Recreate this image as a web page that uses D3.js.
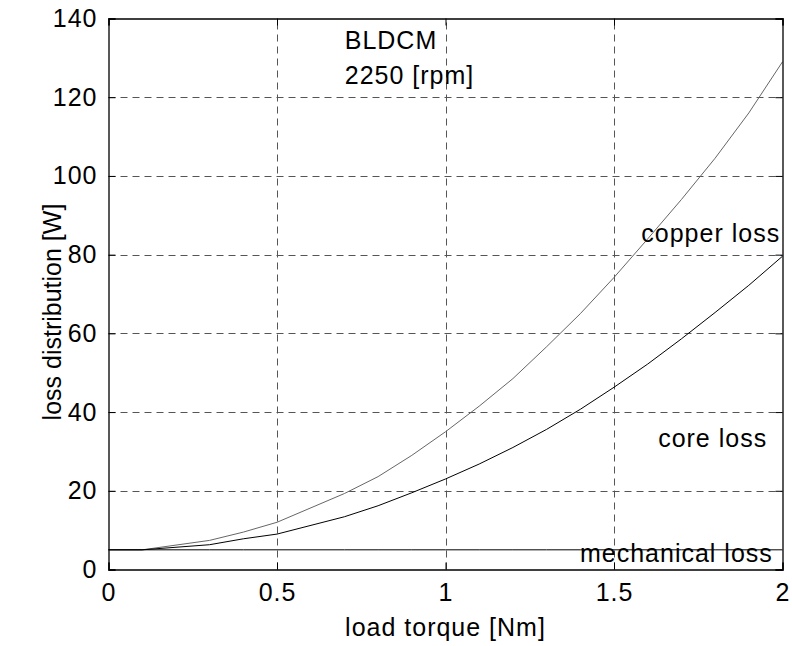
<!DOCTYPE html>
<html>
<head>
<meta charset="utf-8">
<script src="https://cdn.jsdelivr.net/npm/d3@7"></script>
<style>
  body { margin: 0; background: #fff; }
  text { font-family: "Liberation Sans", Arial, sans-serif; fill: #000; }
</style>
</head>
<body>
<div id="chart"></div>
<script>
// data (load torque in Nm, losses in W)
var torque     = [0, 0.1, 0.3, 0.4, 0.5, 0.7, 0.8, 0.9, 1.0, 1.1, 1.2, 1.3, 1.4, 1.5, 1.6, 1.7, 1.8, 1.9, 2.0];
var copperLoss = [5, 5, 7.4, 9.5, 12, 19.3, 23.6, 29, 35, 41.5, 48.5, 56.6, 65, 74.2, 84, 94, 104.5, 116, 129];
var coreLoss   = [5, 5, 6.3, 7.8, 9, 13.4, 16.2, 19.5, 23, 26.8, 31, 35.6, 40.7, 46.3, 52.2, 58.6, 65.3, 72.2, 79.6];
var mechLoss   = [5, 5, 5, 5, 5, 5, 5, 5, 5, 5, 5, 5, 5, 5, 5, 5, 5, 5, 5];

var xTicks = [0, 0.5, 1, 1.5, 2];
var yTicks = [0, 20, 40, 60, 80, 100, 120, 140];

// annotations: [text, x, y] in data units
var notes = [
    ["BLDCM", 0.701, 132.3],
    ["2250 [rpm]", 0.701, 123.4],
    ["copper loss", 1.581, 83.3],
    ["core loss", 1.631, 31.2],
    ["mechanical loss", 1.399, 2.0]
];

var W = 792, H = 646;
// plot box (note: "top" is reserved on window, so prefix these)
var pLeft = 108.5, pRight = 782.5, pTop = 18.5, pBottom = 569.5;

var svg = d3.select("#chart").append("svg")
    .attr("width", W)
    .attr("height", H);

var x = d3.scaleLinear().domain([0, 2]).range([pLeft, pRight]);
var y = d3.scaleLinear().domain([0, 140]).range([pBottom, pTop]);

// grid lines (dashed)
var grid = svg.append("g").attr("stroke", "#555").attr("stroke-width", 1)
    .attr("stroke-dasharray", "7,5");
grid.selectAll("line.gx")
    .data(xTicks.slice(1, -1))
    .enter().append("line")
    .attr("x1", d => Math.round(x(d)) + 0.5).attr("x2", d => Math.round(x(d)) + 0.5)
    .attr("y1", pBottom).attr("y2", pTop);
grid.selectAll("line.gy")
    .data(yTicks.slice(1, -1))
    .enter().append("line")
    .attr("y1", d => Math.round(y(d)) + 0.5).attr("y2", d => Math.round(y(d)) + 0.5)
    .attr("x1", pLeft).attr("x2", pRight);

// curves
var line = d3.line()
    .x((d, i) => x(torque[i]))
    .y(d => y(d));

svg.append("path").datum(copperLoss)
    .attr("fill", "none").attr("stroke", "#666").attr("stroke-width", 1)
    .attr("d", line);
svg.append("path").datum(coreLoss)
    .attr("fill", "none").attr("stroke", "#000").attr("stroke-width", 1)
    .attr("d", line);
svg.append("path").datum(mechLoss)
    .attr("fill", "none").attr("stroke", "#000").attr("stroke-width", 1)
    .attr("d", line);

// axes with inward ticks, all four sides
var fs = 25;
var xAxis = svg.append("g").attr("transform", "translate(0," + pBottom + ")")
    .call(d3.axisBottom(x).tickValues(xTicks).tickSize(-7).tickPadding(14)
        .tickFormat(d3.format("")));
var yAxis = svg.append("g").attr("transform", "translate(" + pLeft + ",0)")
    .call(d3.axisLeft(y).tickValues(yTicks).tickSize(-7).tickPadding(11));
svg.append("g").attr("transform", "translate(0," + pTop + ")")
    .call(d3.axisTop(x).tickValues(xTicks).tickSize(-7).tickFormat(""));
svg.append("g").attr("transform", "translate(" + pRight + ",0)")
    .call(d3.axisRight(y).tickValues(yTicks).tickSize(-7).tickFormat(""));

svg.selectAll(".domain").attr("stroke", "#000").attr("stroke-width", 1.3);
svg.selectAll(".tick line").attr("stroke", "#000");
svg.selectAll(".tick text")
    .attr("font-family", "'Liberation Sans', Arial, sans-serif")
    .attr("font-size", fs).attr("fill", "#000")
    .attr("letter-spacing", 1);
xAxis.selectAll(".tick text").attr("dy", "0.71em");

// axis titles
svg.append("text")
    .attr("x", x(1)).attr("y", 636)
    .attr("text-anchor", "middle")
    .attr("font-size", fs)
    .attr("letter-spacing", 1)
    .text("load torque [Nm]");
svg.append("text")
    .attr("transform", "translate(61," + ((pTop + pBottom) / 2 + 18) + ") rotate(-90)")
    .attr("text-anchor", "middle")
    .attr("font-size", fs)
    .text("loss distribution [W]");

// labels inside the plot
svg.selectAll("text.note")
    .data(notes)
    .enter().append("text")
    .attr("class", "note")
    .attr("x", d => x(d[1]))
    .attr("y", d => y(d[2]))
    .attr("font-size", fs)
    .attr("letter-spacing", 1)
    .text(d => d[0]);
</script>
</body>
</html>
